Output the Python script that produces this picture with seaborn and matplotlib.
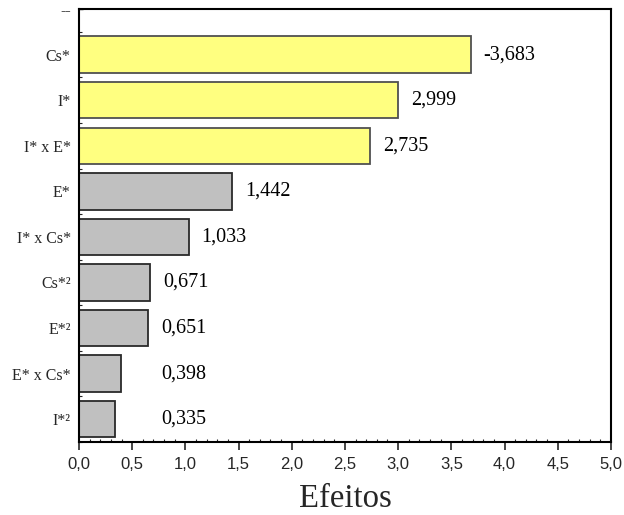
import numpy as np
import pandas as pd
import matplotlib
matplotlib.use("Agg")
import matplotlib.pyplot as plt
from matplotlib.ticker import MultipleLocator, FuncFormatter
import seaborn as sns

# Standardized effects, ordered from largest to smallest magnitude
factors = ["Cs*", "I*", "I* x E*", "E*", "I* x Cs*", "Cs*²", "E*²", "E* x Cs*", "I*²"]
effects = [-3.683, 2.999, 2.735, 1.442, 1.033, 0.671, 0.651, 0.398, 0.335]
significant = [True, True, True, False, False, False, False, False, False]
top_label = "--"
x_ticks = [0.0, 0.5, 1.0, 1.5, 2.0, 2.5, 3.0, 3.5, 4.0, 4.5, 5.0]

df = pd.DataFrame({
    "fator": factors,
    "efeito": effects,
    "magnitude": np.abs(effects),
    "significativo": significant,
})

sns.set_style("ticks")
plt.rcParams["font.family"] = ["Liberation Serif", "DejaVu Serif"]

fig = plt.figure(figsize=(6.24, 5.15), dpi=100)
ax = fig.add_axes([0.1266, 0.1417, 0.8524, 0.8408])

sns.barplot(
    data=df, x="magnitude", y="fator", hue="significativo",
    order=factors, hue_order=[True, False],
    palette={True: "#FFFF80", False: "#C0C0C0"}, saturation=1,
    dodge=False, legend=False, width=0.8,
    edgecolor="#333333", linewidth=1.3, ax=ax,
)
for patch, sig in zip(ax.patches, significant):
    patch.set_edgecolor("#505050" if sig else "#2a2a2a")

# Value labels to the right of each bar
for i, (v, m) in enumerate(zip(effects, np.abs(effects))):
    ax.text(max(m, 0.65) + 0.12, i, f"{v:.3f}".replace(".", ","),
            va="center", ha="left", fontsize=14.5, color="black")

ax.set_xlim(x_ticks[0], x_ticks[-1])
ax.set_ylim(8.5, -1.0)
ax.set_xticks(x_ticks)
ax.xaxis.set_minor_locator(MultipleLocator(0.1))
ax.xaxis.set_major_formatter(FuncFormatter(lambda v, p: f"{v:.1f}".replace(".", ",")))
for lab in ax.get_xticklabels():
    lab.set_family(["Liberation Sans", "DejaVu Sans"])
ax.tick_params(axis="x", which="major", direction="out", length=6, width=1.2,
               labelsize=12, pad=5)
ax.tick_params(axis="x", which="minor", direction="in", length=2.5, width=0.8)

ax.set_yticks(range(-1, len(factors)))
ax.set_yticklabels([top_label] + factors, fontsize=11.5)
ax.yaxis.set_minor_locator(MultipleLocator(0.5))
ax.tick_params(axis="y", which="major", direction="in", length=3, width=1.0, pad=6)
ax.tick_params(axis="y", which="minor", direction="in", length=2, width=0.8)

ax.set_xlabel("Efeitos", fontsize=23.5, labelpad=8)
ax.set_ylabel("")

for side in ["left", "right", "top", "bottom"]:
    ax.spines[side].set_visible(True)
    ax.spines[side].set_color("black")
    ax.spines[side].set_linewidth(1.5)

fig.savefig("out.png", dpi=100)
